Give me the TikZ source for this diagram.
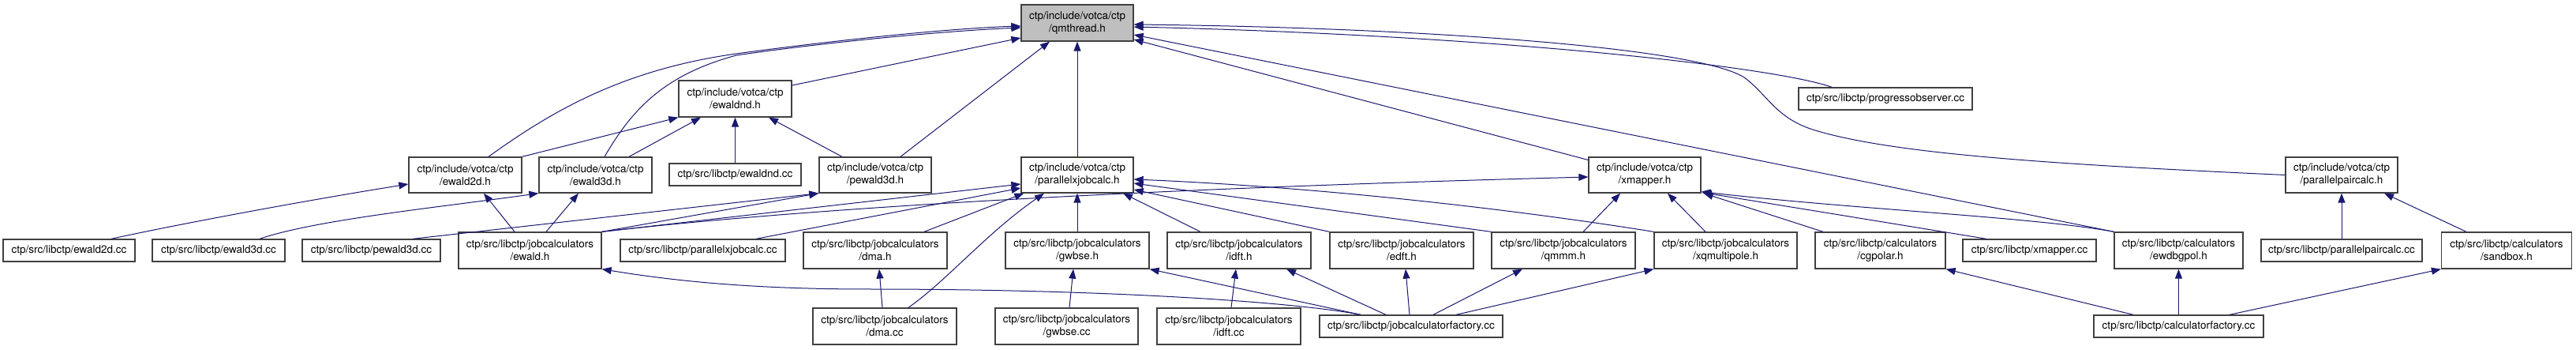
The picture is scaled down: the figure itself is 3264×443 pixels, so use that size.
\documentclass[tikz,border=0pt]{standalone}
\usepackage{fontspec}
\setmainfont{TeX Gyre Heros}
\usetikzlibrary{arrows.meta,calc}
\definecolor{edgec}{HTML}{191970}
\definecolor{boxc}{HTML}{404040}
\definecolor{rootc}{HTML}{BFBFBF}
\begin{document}
\begin{tikzpicture}[x=1pt,y=-1pt,
  fbox/.style={draw=boxc,line width=1.3pt,fill=white,inner sep=0pt,align=center,
    font=\fontsize{13.5}{16}\selectfont,minimum height=46pt},
  sbox/.style={fbox,minimum height=28pt},
  root/.style={fbox,fill=rootc},
  dep/.style={draw=edgec,line width=1pt,-{Triangle[length=12pt,width=9pt]},fill=none}]
\useasboundingbox (0,0) rectangle (3264,443);
\fill[white] (0,0) rectangle (3264,443);
% row 0/1
\node[root,minimum width=142pt] (qm) at (1365,29) {ctp/include/votca/ctp\\/qmthread.h};
\node[fbox,minimum width=143pt] (ewaldndh) at (931.5,125) {ctp/include/votca/ctp\\/ewaldnd.h};
\node[sbox,minimum width=220pt] (progobs) at (2389,125) {ctp/src/libctp/progressobserver.cc};
% row 2
\node[fbox,minimum width=143pt,minimum height=45pt] (ewald2dh) at (589.5,221.5) {ctp/include/votca/ctp\\/ewald2d.h};
\node[fbox,minimum width=143pt,minimum height=45pt] (ewald3dh) at (754.5,221.5) {ctp/include/votca/ctp\\/ewald3d.h};
\node[sbox,minimum width=167pt] (ewaldndcc) at (931.5,221) {ctp/src/libctp/ewaldnd.cc};
\node[fbox,minimum width=142pt,minimum height=45pt] (pewald3dh) at (1109,221.5) {ctp/include/votca/ctp\\/pewald3d.h};
\node[fbox,minimum width=142pt,minimum height=45pt] (pxjch) at (1365,221.5) {ctp/include/votca/ctp\\/parallelxjobcalc.h};
\node[fbox,minimum width=142pt,minimum height=45pt] (xmapperh) at (2084,221.5) {ctp/include/votca/ctp\\/xmapper.h};
\node[fbox,minimum width=142pt,minimum height=45pt] (ppch) at (2967,221.5) {ctp/include/votca/ctp\\/parallelpaircalc.h};
% row 3
\node[sbox,minimum width=167pt] (ewald2dcc) at (87.5,317) {ctp/src/libctp/ewald2d.cc};
\node[sbox,minimum width=168pt] (ewald3dcc) at (277,317) {ctp/src/libctp/ewald3d.cc};
\node[sbox,minimum width=175pt] (pewald3dcc) at (470.5,317) {ctp/src/libctp/pewald3d.cc};
\node[fbox,minimum width=181pt] (ewaldh) at (671.5,317) {ctp/src/libctp/jobcalculators\\/ewald.h};
\node[sbox,minimum width=209pt] (pxjccc) at (890.5,317) {ctp/src/libctp/parallelxjobcalc.cc};
\node[fbox,minimum width=182pt] (dmah) at (1109,317) {ctp/src/libctp/jobcalculators\\/dma.h};
\node[fbox,minimum width=182pt] (gwbseh) at (1365,317) {ctp/src/libctp/jobcalculators\\/gwbse.h};
\node[fbox,minimum width=182pt] (idfth) at (1570,317) {ctp/src/libctp/jobcalculators\\/idft.h};
\node[fbox,minimum width=182pt] (edfth) at (1776,317) {ctp/src/libctp/jobcalculators\\/edft.h};
\node[fbox,minimum width=182pt] (qmmmh) at (1981,317) {ctp/src/libctp/jobcalculators\\/qmmm.h};
\node[fbox,minimum width=181pt] (xqmph) at (2186.5,317) {ctp/src/libctp/jobcalculators\\/xqmultipole.h};
\node[fbox,minimum width=165pt] (cgpolarh) at (2382.5,317) {ctp/src/libctp/calculators\\/cgpolar.h};
\node[sbox,minimum width=169pt] (xmappercc) at (2571.5,317) {ctp/src/libctp/xmapper.cc};
\node[fbox,minimum width=163pt] (ewdbgpolh) at (2760.5,317) {ctp/src/libctp/calculators\\/ewdbgpol.h};
\node[sbox,minimum width=204pt] (ppccc) at (2967,317) {ctp/src/libctp/parallelpaircalc.cc};
\node[fbox,minimum width=165pt] (sandboxh) at (3176,317) {ctp/src/libctp/calculators\\/sandbox.h};
% row 4
\node[fbox,minimum width=182pt] (dmacc) at (1121,413) {ctp/src/libctp/jobcalculators\\/dma.cc};
\node[fbox,minimum width=181pt] (gwbsecc) at (1351.5,413) {ctp/src/libctp/jobcalculators\\/gwbse.cc};
\node[fbox,minimum width=182pt] (idftcc) at (1557,413) {ctp/src/libctp/jobcalculators\\/idft.cc};
\node[sbox,minimum width=232pt] (jcfcc) at (1788,413) {ctp/src/libctp/jobcalculatorfactory.cc};
\node[sbox,minimum width=215pt] (cfcc) at (2760.5,413) {ctp/src/libctp/calculatorfactory.cc};
% edges into qmthread.h
\draw[dep] ($(ewald2dh.north)+(29.5,0)$) .. controls (700,140) and (790,88) .. (933,68) .. controls (1050,52) and (1200,36) .. ($(qm.west)+(0,4)$);
\draw[dep] ($(ewald3dh.north)+(11.5,0)$) .. controls (800,140) and (840,95) .. (933,70) .. controls (1050,53) and (1200,39) .. ($(qm.west)+(0,6)$);
\draw[dep] ($(ewaldndh.east)+(0,-17)$) -- ($(qm.west)+(0,19)$);
\draw[dep] ($(pewald3dh.north)+(32,0)$) -- ($(qm.south)+(-35,0)$);
\draw[dep] (pxjch.north) -- (qm.south);
\draw[dep] ($(xmapperh.west)+(0,-19)$) -- ($(qm.east)+(0,21)$);
\draw[dep] (ewdbgpolh.north west) -- ($(qm.east)+(0,15)$);
\draw[dep] ($(progobs.north)+(-68,0)$) .. controls (2250,85) and (1900,45) .. ($(qm.east)+(0,5)$);
\draw[dep] (ppch.west) .. controls (2600,208) and (2400,195) .. (2300,165) .. controls (2250,150) and (2240,120) .. (2210,98) .. controls (2150,60) and (1800,35) .. ($(qm.east)+(0,2)$);
% edges into ewaldnd.h
\draw[dep] (ewald2dh.north east) -- (ewaldndh.south west);
\draw[dep] ($(ewald3dh.north)+(42.5,0)$) -- ($(ewaldndh.south)+(-43.5,0)$);
\draw[dep] (ewaldndcc.north) -- (ewaldndh.south);
\draw[dep] ($(pewald3dh.north)+(-42,0)$) -- ($(ewaldndh.south)+(42.5,0)$);
% ewald2d.h / ewald3d.h / pewald3d.h
\draw[dep] ($(ewald2dcc.north)+(53.5,0)$) .. controls (220,285) and (380,255) .. ($(ewald2dh.west)+(0,11.5)$);
\draw[dep] ($(ewaldh.north)+(-19.5,0)$) -- ($(ewald2dh.south)+(23.5,0)$);
\draw[dep] ($(ewald3dcc.north)+(52,0)$) .. controls (400,278) and (560,262) .. (ewald3dh.south west);
\draw[dep] ($(ewaldh.north)+(20.5,0)$) -- ($(ewald3dh.south)+(-21.5,0)$);
\draw[dep] ($(pewald3dcc.north)+(52.5,0)$) -- (pewald3dh.south west);
\draw[dep] (ewaldh.north east) -- (pewald3dh.south west);
% into parallelxjobcalc.h
\draw[dep] (ewaldh.north east) -- ($(pxjch.west)+(0,11.5)$);
\draw[dep] ($(pxjccc.north)+(67.5,0)$) -- ($(pxjch.west)+(0,16.5)$);
\draw[dep] ($(dmah.north)+(62,0)$) -- ($(pxjch.south west)+(4,0)$);
\draw[dep] ($(dmacc.north)+(30,0)$) .. controls (1200,355) and (1250,295) .. ($(pxjch.south)+(-42,0)$);
\draw[dep] (gwbseh.north) -- (pxjch.south);
\draw[dep] ($(idfth.north)+(-49,0)$) -- ($(pxjch.south)+(58,0)$);
\draw[dep] (edfth.north west) -- ($(pxjch.east)+(0,18.5)$);
\draw[dep] (qmmmh.north west) -- ($(pxjch.east)+(0,10.5)$);
\draw[dep] (xqmph.north west) .. controls (1950,270) and (1700,238) .. ($(pxjch.east)+(0,5.5)$);
% into xmapper.h
\draw[dep] (ewaldh.north east) .. controls (1000,266) and (1400,240) .. ($(xmapperh.west)+(0,2.5)$);
\draw[dep] ($(qmmmh.north)+(25,0)$) -- ($(xmapperh.south)+(-31,0)$);
\draw[dep] ($(xqmph.north)+(-25.5,0)$) -- ($(xmapperh.south)+(29,0)$);
\draw[dep] ($(cgpolarh.north)+(-72.5,0)$) -- ($(xmapperh.south east)+(3,0)$);
\draw[dep] ($(xmappercc.north)+(-54.5,0)$) -- ($(xmapperh.south east)+(1,-1)$);
\draw[dep] (ewdbgpolh.north west) .. controls (2580,275) and (2350,265) .. ($(xmapperh.south east)+(0,-2)$);
% from jobcalculatorfactory.cc
\draw[dep] ($(jcfcc.north)+(-64,0)$) .. controls (1640,382) and (1400,366) .. (1100,366) .. controls (950,366) and (850,355) .. (ewaldh.south east);
\draw[dep] ($(jcfcc.north)+(-64,0)$) -- (gwbseh.south east);
\draw[dep] ($(jcfcc.north)+(-32,0)$) -- ($(idfth.south)+(60,0)$);
\draw[dep] ($(jcfcc.north)+(-2,0)$) -- ($(edfth.south)+(5,0)$);
\draw[dep] ($(jcfcc.north)+(28,0)$) -- ($(qmmmh.south)+(-52,0)$);
\draw[dep] ($(jcfcc.north)+(57,0)$) -- (xqmph.south west);
% others
\draw[dep] ($(dmacc.north)+(-3,0)$) -- ($(dmah.south)+(5,0)$);
\draw[dep] ($(gwbsecc.north)+(3.5,0)$) -- ($(gwbseh.south)+(-5,0)$);
\draw[dep] ($(idftcc.north)+(3,0)$) -- ($(idfth.south)+(-4,0)$);
\draw[dep] ($(cfcc.north)+(-57.5,0)$) -- (cgpolarh.south east);
\draw[dep] (cfcc.north) -- (ewdbgpolh.south);
\draw[dep] ($(cfcc.north)+(64.5,0)$) -- (sandboxh.south west);
\draw[dep] (ppccc.north) -- (ppch.south);
\draw[dep] ($(sandboxh.north)+(-51,0)$) -- ($(ppch.south)+(54,0)$);
\end{tikzpicture}
\end{document}
